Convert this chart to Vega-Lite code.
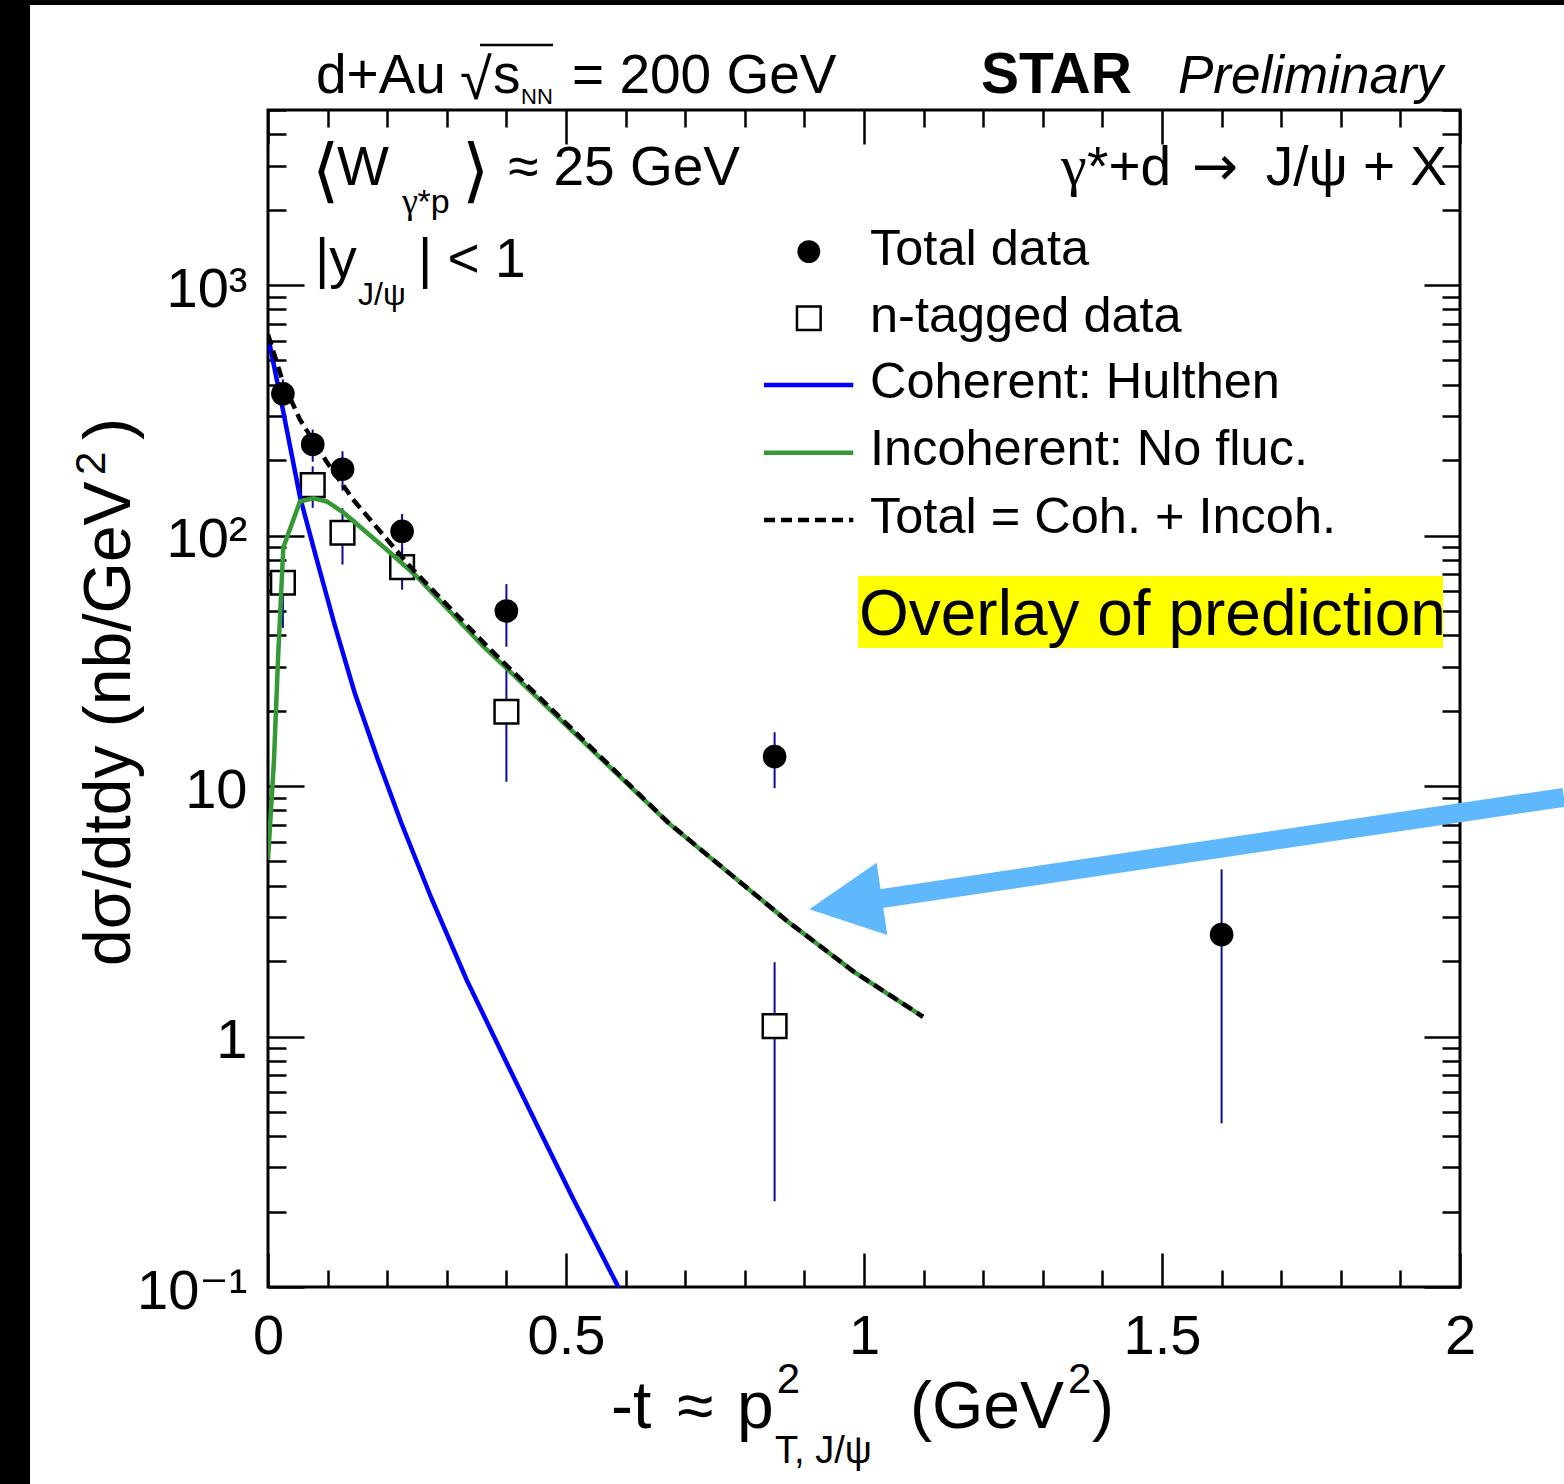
{
  "$schema": "https://vega.github.io/schema/vega-lite/v6.json",
  "width": 1192,
  "height": 1177,
  "autosize": {"type": "none"},
  "padding": {"left": 268, "top": 110, "right": 104, "bottom": 197},
  "background": "white",
  "data": {"values": [{}]},
  "config": {
    "view": {"stroke": "black", "strokeWidth": 3},
    "font": "Liberation Sans, DejaVu Sans",
    "text": {"font": "Liberation Sans, DejaVu Sans", "color": "black"},
    "axis": {"domain": false, "grid": false, "title": null, "tickColor": "black", "tickWidth": 2.5, "labelColor": "black", "labelFont": "Liberation Sans, DejaVu Sans", "labelOverlap": false, "labelFlush": false, "labelBound": false}
  },
  "datasets": {
    "total": [
      {"t": 0.025, "sigma": 368, "lo": 316, "hi": 420},
      {"t": 0.075, "sigma": 231, "lo": 197, "hi": 265},
      {"t": 0.125, "sigma": 184, "lo": 151, "hi": 217},
      {"t": 0.225, "sigma": 104, "lo": 86, "hi": 122},
      {"t": 0.4, "sigma": 50, "lo": 36, "hi": 64},
      {"t": 0.85, "sigma": 13.1, "lo": 9.8, "hi": 16.4},
      {"t": 1.6, "sigma": 2.55, "lo": 0.45, "hi": 4.65}
    ],
    "ntag": [
      {"t": 0.025, "sigma": 64.8, "lo": 42.8, "hi": 86.8},
      {"t": 0.075, "sigma": 159, "lo": 129, "hi": 189},
      {"t": 0.125, "sigma": 102.6, "lo": 76.6, "hi": 128.6},
      {"t": 0.225, "sigma": 74.8, "lo": 60.8, "hi": 88.8},
      {"t": 0.4, "sigma": 19.8, "lo": 10.4, "hi": 29.2},
      {"t": 0.85, "sigma": 1.1, "lo": 0.22, "hi": 1.98}
    ],
    "coherent": [
      {"t": 0, "sigma": 626}, {"t": 0.0257, "sigma": 311.5}, {"t": 0.0537, "sigma": 142.6},
      {"t": 0.081, "sigma": 81.4}, {"t": 0.1119, "sigma": 43.95}, {"t": 0.1455, "sigma": 23.52},
      {"t": 0.1846, "sigma": 12.71}, {"t": 0.2237, "sigma": 7.12}, {"t": 0.274, "sigma": 3.573},
      {"t": 0.3334, "sigma": 1.682}, {"t": 0.4005, "sigma": 0.784}, {"t": 0.4619, "sigma": 0.3935},
      {"t": 0.5122, "sigma": 0.2245}, {"t": 0.5878, "sigma": 0.1}, {"t": 0.6242, "sigma": 0.0673}
    ],
    "incoherent": [
      {"t": 0, "sigma": 5.08}, {"t": 0.0101, "sigma": 12.75}, {"t": 0.0168, "sigma": 32.0},
      {"t": 0.0257, "sigma": 89.6}, {"t": 0.0537, "sigma": 136.8}, {"t": 0.076, "sigma": 140.7},
      {"t": 0.0985, "sigma": 136.8}, {"t": 0.1263, "sigma": 123.7}, {"t": 0.2047, "sigma": 85.6},
      {"t": 0.2495, "sigma": 68.65}, {"t": 0.3612, "sigma": 36.06}, {"t": 0.4027, "sigma": 29.18},
      {"t": 0.6711, "sigma": 7.14}, {"t": 0.7248, "sigma": 5.6}, {"t": 0.8725, "sigma": 2.873},
      {"t": 0.9832, "sigma": 1.813}, {"t": 1.099, "sigma": 1.199}
    ],
    "sum": [
      {"t": 0, "sigma": 635}, {"t": 0.0252, "sigma": 409}, {"t": 0.0537, "sigma": 290},
      {"t": 0.099, "sigma": 196}, {"t": 0.1426, "sigma": 139.4}, {"t": 0.1997, "sigma": 96.5},
      {"t": 0.2433, "sigma": 73}, {"t": 0.3674, "sigma": 36.2}, {"t": 0.4027, "sigma": 29.9},
      {"t": 0.6711, "sigma": 7.17}, {"t": 0.7248, "sigma": 5.61}, {"t": 0.8725, "sigma": 2.875},
      {"t": 0.9832, "sigma": 1.813}, {"t": 1.099, "sigma": 1.199}
    ]
  },
  "resolve": {"axis": {"x": "independent", "y": "independent"}},
  "layer": [
    {
      "mark": {"type": "rect", "fill": "black", "clip": false},
      "encoding": {
        "x": {"datum": -0.5, "axis": null}, "x2": {"datum": -0.3993},
        "y": {"datum": 0.01, "axis": null}, "y2": {"datum": 20000}
      }
    },
    {
      "mark": {"type": "rect", "fill": "black", "clip": false},
      "encoding": {
        "x": {"datum": -0.5, "axis": null}, "x2": {"datum": 2.5},
        "y": {"datum": 13119, "axis": null}, "y2": {"datum": 20000}
      }
    },
    {
      "mark": {"type": "rect", "fill": "#ffff00"},
      "encoding": {
        "x": {"datum": 0.99, "axis": null}, "x2": {"datum": 1.9715},
        "y": {"datum": 35.57, "axis": null}, "y2": {"datum": 68.96}
      }
    },
    {
      "data": {"name": "total"},
      "mark": {"type": "rule", "color": "#0c0c9c", "strokeWidth": 2},
      "encoding": {
        "x": {"field": "t", "type": "quantitative",
              "scale": {"domain": [0, 2], "nice": false, "zero": false},
              "axis": {"orient": "bottom", "values": [0, 0.5, 1, 1.5, 2], "tickSize": -34, "labelFontSize": 56, "labelBaseline": "top", "labelPadding": 56, "labelExpr": "datum.value + ''"}},
        "y": {"field": "lo", "type": "quantitative",
              "scale": {"type": "log", "domain": [0.1, 5000], "nice": false},
              "axis": {"orient": "left", "values": [0.1, 1, 10, 100, 1000], "tickSize": -36, "labelFontSize": 56, "labelAlign": "right", "labelBaseline": "middle", "labelPadding": 57, "labelOffset": 4,
                       "labelExpr": "datum.value >= 1000 ? '10³' : datum.value >= 100 ? '10²' : datum.value >= 10 ? '10' : datum.value >= 1 ? '1' : '10⁻¹'"}},
        "y2": {"field": "hi"}
      }
    },
    {
      "data": {"name": "ntag"},
      "mark": {"type": "rule", "color": "#0c0c9c", "strokeWidth": 2},
      "encoding": {
        "x": {"field": "t", "type": "quantitative",
              "axis": {"orient": "bottom", "values": [0.1, 0.2, 0.3, 0.4, 0.6, 0.7, 0.8, 0.9, 1.1, 1.2, 1.3, 1.4, 1.6, 1.7, 1.8, 1.9], "tickSize": -17, "labels": false}},
        "y": {"field": "lo", "type": "quantitative",
              "axis": {"orient": "left", "values": [0.2, 0.3, 0.4, 0.5, 0.6, 0.7, 0.8, 0.9, 2, 3, 4, 5, 6, 7, 8, 9, 20, 30, 40, 50, 60, 70, 80, 90, 200, 300, 400, 500, 600, 700, 800, 900, 2000, 3000, 4000, 5000], "tickSize": -18, "labels": false}},
        "y2": {"field": "hi"}
      }
    },
    {
      "data": {"name": "ntag"},
      "mark": {"type": "point", "shape": "square", "filled": false, "fill": "white", "fillOpacity": 1, "stroke": "black", "strokeWidth": 2.5, "size": 560, "opacity": 1},
      "encoding": {
        "x": {"field": "t", "type": "quantitative",
              "axis": {"orient": "top", "values": [0, 0.5, 1, 1.5, 2], "tickSize": -34, "labels": false}},
        "y": {"field": "sigma", "type": "quantitative",
              "axis": {"orient": "right", "values": [0.1, 1, 10, 100, 1000], "tickSize": -36, "labels": false}}
      }
    },
    {
      "data": {"name": "coherent"},
      "mark": {"type": "line", "color": "#0000ff", "strokeWidth": 4.5, "clip": true},
      "encoding": {
        "x": {"field": "t", "type": "quantitative",
              "axis": {"orient": "top", "values": [0.1, 0.2, 0.3, 0.4, 0.6, 0.7, 0.8, 0.9, 1.1, 1.2, 1.3, 1.4, 1.6, 1.7, 1.8, 1.9], "tickSize": -17, "labels": false}},
        "y": {"field": "sigma", "type": "quantitative",
              "axis": {"orient": "right", "values": [0.2, 0.3, 0.4, 0.5, 0.6, 0.7, 0.8, 0.9, 2, 3, 4, 5, 6, 7, 8, 9, 20, 30, 40, 50, 60, 70, 80, 90, 200, 300, 400, 500, 600, 700, 800, 900, 2000, 3000, 4000, 5000], "tickSize": -18, "labels": false}}
      }
    },
    {
      "data": {"name": "incoherent"},
      "mark": {"type": "line", "color": "#359a35", "strokeWidth": 4.5, "clip": true},
      "encoding": {
        "x": {"field": "t", "type": "quantitative", "axis": null},
        "y": {"field": "sigma", "type": "quantitative", "axis": null}
      }
    },
    {
      "data": {"name": "sum"},
      "mark": {"type": "line", "color": "black", "strokeWidth": 4.5, "strokeDash": [11, 6], "clip": true},
      "encoding": {
        "x": {"field": "t", "type": "quantitative", "axis": null},
        "y": {"field": "sigma", "type": "quantitative", "axis": null}
      }
    },
    {
      "data": {"name": "total"},
      "mark": {"type": "point", "shape": "circle", "filled": true, "color": "black", "size": 560, "opacity": 1},
      "encoding": {
        "x": {"field": "t", "type": "quantitative", "axis": null},
        "y": {"field": "sigma", "type": "quantitative", "axis": null}
      }
    },
    {
      "mark": {"type": "rule", "color": "#60b8fc", "strokeWidth": 19, "clip": false},
      "encoding": {
        "x": {"datum": 1.0201, "axis": null}, "y": {"datum": 3.527, "axis": null},
        "x2": {"datum": 2.1745}, "y2": {"datum": 9.016}
      }
    },
    {
      "mark": {"type": "point", "shape": "M0,0L1.348,-0.932L1.56,0.514Z", "filled": true, "color": "#60b8fc", "size": 10000, "opacity": 1, "strokeWidth": 0, "clip": false},
      "encoding": {
        "x": {"datum": 0.9082, "axis": null}, "y": {"datum": 3.221, "axis": null}
      }
    },
    {
      "mark": {"type": "point", "shape": "circle", "filled": true, "color": "black", "size": 520, "opacity": 1},
      "encoding": {"x": {"datum": 0.9074, "axis": null}, "y": {"datum": 1359.6, "axis": null}}
    },
    {
      "mark": {"type": "point", "shape": "square", "filled": false, "fill": "white", "stroke": "black", "strokeWidth": 2.5, "size": 560, "opacity": 1},
      "encoding": {"x": {"datum": 0.9074, "axis": null}, "y": {"datum": 737, "axis": null}}
    },
    {
      "mark": {"type": "rule", "color": "#0000ff", "strokeWidth": 4.5},
      "encoding": {"x": {"datum": 0.8322, "axis": null}, "x2": {"datum": 0.982}, "y": {"datum": 399, "axis": null}}
    },
    {
      "mark": {"type": "rule", "color": "#359a35", "strokeWidth": 4.5},
      "encoding": {"x": {"datum": 0.8322, "axis": null}, "x2": {"datum": 0.982}, "y": {"datum": 214.2, "axis": null}}
    },
    {
      "mark": {"type": "rule", "color": "black", "strokeWidth": 4.5, "strokeDash": [11, 6]},
      "encoding": {"x": {"datum": 0.8322, "axis": null}, "x2": {"datum": 0.982}, "y": {"datum": 115.4, "axis": null}}
    },
    {
      "mark": {"type": "text", "align": "left", "baseline": "alphabetic", "fontSize": 50.5, "text": "Total data"},
      "encoding": {"x": {"datum": 1.0101, "axis": null}, "y": {"datum": 1203, "axis": null}}
    },
    {
      "mark": {"type": "text", "align": "left", "baseline": "alphabetic", "fontSize": 50.5, "text": "n-tagged data"},
      "encoding": {"x": {"datum": 1.0101, "axis": null}, "y": {"datum": 651.5, "axis": null}}
    },
    {
      "mark": {"type": "text", "align": "left", "baseline": "alphabetic", "fontSize": 50.5, "text": "Coherent: Hulthen"},
      "encoding": {"x": {"datum": 1.0101, "axis": null}, "y": {"datum": 353.2, "axis": null}}
    },
    {
      "mark": {"type": "text", "align": "left", "baseline": "alphabetic", "fontSize": 50.5, "text": "Incoherent: No fluc."},
      "encoding": {"x": {"datum": 1.0101, "axis": null}, "y": {"datum": 191.2, "axis": null}}
    },
    {
      "mark": {"type": "text", "align": "left", "baseline": "alphabetic", "fontSize": 50.5, "text": "Total = Coh. + Incoh."},
      "encoding": {"x": {"datum": 1.0101, "axis": null}, "y": {"datum": 102.1, "axis": null}}
    },
    {
      "mark": {"type": "text", "align": "left", "baseline": "alphabetic", "fontSize": 64, "text": "Overlay of prediction"},
      "encoding": {"x": {"datum": 0.9916, "axis": null}, "y": {"datum": 40.09, "axis": null}}
    },
    {
      "mark": {"type": "text", "align": "left", "baseline": "alphabetic", "fontSize": 55, "text": "d+Au"},
      "encoding": {"x": {"datum": 0.0805, "axis": null}, "y": {"datum": 5846, "axis": null}}
    },
    {
      "mark": {"type": "text", "align": "left", "baseline": "alphabetic", "fontSize": 58, "text": "√"},
      "encoding": {"x": {"datum": 0.3221, "axis": null}, "y": {"datum": 5540, "axis": null}}
    },
    {
      "mark": {"type": "rule", "color": "black", "strokeWidth": 2.5, "clip": false},
      "encoding": {"x": {"datum": 0.3557, "axis": null}, "x2": {"datum": 0.4782}, "y": {"datum": 9090, "axis": null}}
    },
    {
      "mark": {"type": "text", "align": "left", "baseline": "alphabetic", "fontSize": 55, "text": "s"},
      "encoding": {"x": {"datum": 0.3775, "axis": null}, "y": {"datum": 5846, "axis": null}}
    },
    {
      "mark": {"type": "text", "align": "left", "baseline": "alphabetic", "fontSize": 22, "text": "NN"},
      "encoding": {"x": {"datum": 0.4245, "axis": null}, "y": {"datum": 5290, "axis": null}}
    },
    {
      "mark": {"type": "text", "align": "left", "baseline": "alphabetic", "fontSize": 55, "text": "= 200 GeV"},
      "encoding": {"x": {"datum": 0.5101, "axis": null}, "y": {"datum": 5846, "axis": null}}
    },
    {
      "mark": {"type": "text", "align": "left", "baseline": "alphabetic", "fontSize": 57, "fontWeight": "bold", "text": "STAR"},
      "encoding": {"x": {"datum": 1.1963, "axis": null}, "y": {"datum": 5846, "axis": null}}
    },
    {
      "mark": {"type": "text", "align": "left", "baseline": "alphabetic", "fontSize": 53, "fontStyle": "italic", "text": "Preliminary"},
      "encoding": {"x": {"datum": 1.5268, "axis": null}, "y": {"datum": 5846, "axis": null}}
    },
    {
      "mark": {"type": "text", "align": "left", "baseline": "alphabetic", "fontSize": 70, "text": "⟨"},
      "encoding": {"x": {"datum": 0.0738, "axis": null}, "y": {"datum": 2317, "axis": null}}
    },
    {
      "mark": {"type": "text", "align": "left", "baseline": "alphabetic", "fontSize": 55, "text": "W"},
      "encoding": {"x": {"datum": 0.1158, "axis": null}, "y": {"datum": 2509, "axis": null}}
    },
    {
      "mark": {"type": "text", "align": "left", "baseline": "alphabetic", "fontSize": 36, "font": "Liberation Serif", "text": "γ"},
      "encoding": {"x": {"datum": 0.2248, "axis": null}, "y": {"datum": 1940, "axis": null}}
    },
    {
      "mark": {"type": "text", "align": "left", "baseline": "alphabetic", "fontSize": 34, "text": "*p"},
      "encoding": {"x": {"datum": 0.2508, "axis": null}, "y": {"datum": 1940, "axis": null}}
    },
    {
      "mark": {"type": "text", "align": "left", "baseline": "alphabetic", "fontSize": 70, "text": "⟩"},
      "encoding": {"x": {"datum": 0.3255, "axis": null}, "y": {"datum": 2317, "axis": null}}
    },
    {
      "mark": {"type": "text", "align": "left", "baseline": "alphabetic", "fontSize": 55, "text": "≈ 25 GeV"},
      "encoding": {"x": {"datum": 0.4027, "axis": null}, "y": {"datum": 2509, "axis": null}}
    },
    {
      "mark": {"type": "text", "align": "left", "baseline": "alphabetic", "fontSize": 58, "font": "Liberation Serif", "text": "γ"},
      "encoding": {"x": {"datum": 1.3305, "axis": null}, "y": {"datum": 2509, "axis": null}}
    },
    {
      "mark": {"type": "text", "align": "left", "baseline": "alphabetic", "fontSize": 55, "text": "*+d"},
      "encoding": {"x": {"datum": 1.3742, "axis": null}, "y": {"datum": 2509, "axis": null}}
    },
    {
      "mark": {"type": "text", "align": "left", "baseline": "alphabetic", "fontSize": 55, "font": "DejaVu Sans", "text": "→"},
      "encoding": {"x": {"datum": 1.5503, "axis": null}, "y": {"datum": 2509, "axis": null}}
    },
    {
      "mark": {"type": "text", "align": "right", "baseline": "alphabetic", "fontSize": 55, "text": "J/ψ + X"},
      "encoding": {"x": {"datum": 1.9782, "axis": null}, "y": {"datum": 2509, "axis": null}}
    },
    {
      "mark": {"type": "text", "align": "left", "baseline": "alphabetic", "fontSize": 55, "text": "|y"},
      "encoding": {"x": {"datum": 0.0789, "axis": null}, "y": {"datum": 1077, "axis": null}}
    },
    {
      "mark": {"type": "text", "align": "left", "baseline": "alphabetic", "fontSize": 32, "text": "J/ψ"},
      "encoding": {"x": {"datum": 0.151, "axis": null}, "y": {"datum": 833, "axis": null}}
    },
    {
      "mark": {"type": "text", "align": "left", "baseline": "alphabetic", "fontSize": 55, "text": "| < 1"},
      "encoding": {"x": {"datum": 0.2517, "axis": null}, "y": {"datum": 1077, "axis": null}}
    },
    {
      "mark": {"type": "text", "align": "left", "baseline": "alphabetic", "fontSize": 66, "text": "-t"},
      "encoding": {"x": {"datum": 0.5755, "axis": null}, "y": {"datum": 0.02735, "axis": null}}
    },
    {
      "mark": {"type": "text", "align": "left", "baseline": "alphabetic", "fontSize": 66, "text": "≈"},
      "encoding": {"x": {"datum": 0.6862, "axis": null}, "y": {"datum": 0.02735, "axis": null}}
    },
    {
      "mark": {"type": "text", "align": "left", "baseline": "alphabetic", "fontSize": 66, "text": "p"},
      "encoding": {"x": {"datum": 0.7869, "axis": null}, "y": {"datum": 0.02735, "axis": null}}
    },
    {
      "mark": {"type": "text", "align": "left", "baseline": "alphabetic", "fontSize": 42, "text": "2"},
      "encoding": {"x": {"datum": 0.8535, "axis": null}, "y": {"datum": 0.0376, "axis": null}}
    },
    {
      "mark": {"type": "text", "align": "left", "baseline": "alphabetic", "fontSize": 38, "text": "T, J/ψ"},
      "encoding": {"x": {"datum": 0.8507, "axis": null}, "y": {"datum": 0.01985, "axis": null}}
    },
    {
      "mark": {"type": "text", "align": "left", "baseline": "alphabetic", "fontSize": 66, "text": "(GeV"},
      "encoding": {"x": {"datum": 1.0772, "axis": null}, "y": {"datum": 0.02735, "axis": null}}
    },
    {
      "mark": {"type": "text", "align": "left", "baseline": "alphabetic", "fontSize": 42, "text": "2"},
      "encoding": {"x": {"datum": 1.3423, "axis": null}, "y": {"datum": 0.0376, "axis": null}}
    },
    {
      "mark": {"type": "text", "align": "left", "baseline": "alphabetic", "fontSize": 66, "text": ")"},
      "encoding": {"x": {"datum": 1.3826, "axis": null}, "y": {"datum": 0.02735, "axis": null}}
    },
    {
      "mark": {"type": "text", "align": "left", "baseline": "alphabetic", "fontSize": 66, "angle": 270, "text": "dσ/dtdy (nb/GeV"},
      "encoding": {"x": {"datum": -0.2315, "axis": null}, "y": {"datum": 1.912, "axis": null}}
    },
    {
      "mark": {"type": "text", "align": "left", "baseline": "alphabetic", "fontSize": 42, "angle": 270, "text": "2"},
      "encoding": {"x": {"datum": -0.2735, "axis": null}, "y": {"datum": 174.5, "axis": null}}
    },
    {
      "mark": {"type": "text", "align": "left", "baseline": "alphabetic", "fontSize": 66, "angle": 270, "text": ")"},
      "encoding": {"x": {"datum": -0.2315, "axis": null}, "y": {"datum": 240.7, "axis": null}}
    }
  ]
}
